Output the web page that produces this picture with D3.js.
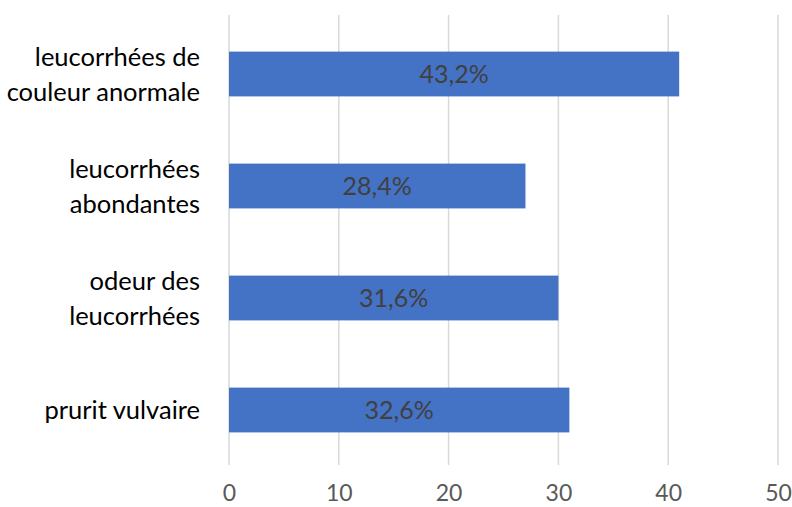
<!DOCTYPE html>
<html>
<head>
<meta charset="utf-8">
<script src="https://cdn.jsdelivr.net/npm/d3@7"></script>
<style>
  body { margin: 0; background: #fff; }
  text { font-family: Lato, "Open Sans", sans-serif; }
</style>
</head>
<body>
<div id="chart"></div>
<script>
var WIDTH = 792,
    HEIGHT = 507;

// categories (top to bottom), each one split in lines
var categories = [
  ['leucorrhées de', 'couleur anormale'],
  ['leucorrhées', 'abondantes'],
  ['odeur des', 'leucorrhées'],
  ['prurit vulvaire']
];
var values = [41, 27, 30, 31];
var labels = ['43,2%', '28,4%', '31,6%', '32,6%'];
var xTicks = [0, 10, 20, 30, 40, 50];

var svg = d3.select('#chart').append('svg')
    .attr('width', WIDTH)
    .attr('height', HEIGHT);

var x = d3.scaleLinear().domain([0, 50]).range([229, 778]);
var y = d3.scaleBand()
    .domain(d3.range(categories.length))
    .range([18, 466])
    .paddingInner(0.6)
    .paddingOuter(0.3);

// gridlines
svg.append('g').selectAll('line')
    .data(xTicks).enter()
    .append('line')
    .attr('x1', d => x(d)).attr('x2', d => x(d))
    .attr('y1', 15).attr('y2', 465)
    .attr('stroke', '#d9d9d9')
    .attr('stroke-width', 1.5);

// bars
svg.append('g').selectAll('rect')
    .data(values).enter()
    .append('rect')
    .attr('x', x(0))
    .attr('y', (d, i) => y(i))
    .attr('width', d => x(d) - x(0))
    .attr('height', y.bandwidth())
    .attr('fill', '#4472c4');

// data labels
svg.append('g').selectAll('text')
    .data(values).enter()
    .append('text')
    .attr('x', d => (x(0) + x(d)) / 2)
    .attr('y', (d, i) => y(i) + y.bandwidth() / 2)
    .attr('dy', '0.36em')
    .attr('text-anchor', 'middle')
    .attr('fill', '#404040')
    .style('font-size', '25px')
    .text((d, i) => labels[i]);

// category labels
var cat = svg.append('g').selectAll('text')
    .data(categories).enter()
    .append('text')
    .attr('text-anchor', 'end')
    .attr('fill', '#000')
    .style('font-size', '25.5px');

cat.each(function(lines, i) {
  var cy = y(i) + y.bandwidth() / 2;
  var start = cy - (lines.length - 1) * 35 / 2;
  d3.select(this).selectAll('tspan')
    .data(lines).enter()
    .append('tspan')
    .attr('x', 200)
    .attr('y', (d, j) => start + j * 35)
    .attr('dy', '0.36em')
    .text(d => d);
});

// x axis tick labels
var xAxis = svg.append('g')
    .attr('transform', 'translate(0,485)')
    .call(d3.axisBottom(x).tickValues(xTicks).tickSize(0).tickPadding(0));
xAxis.select('.domain').remove();
xAxis.selectAll('text')
    .attr('fill', '#595959')
    .style('font-size', '23px')
    .style('font-family', 'Lato, "Open Sans", sans-serif');
</script>
</body>
</html>
